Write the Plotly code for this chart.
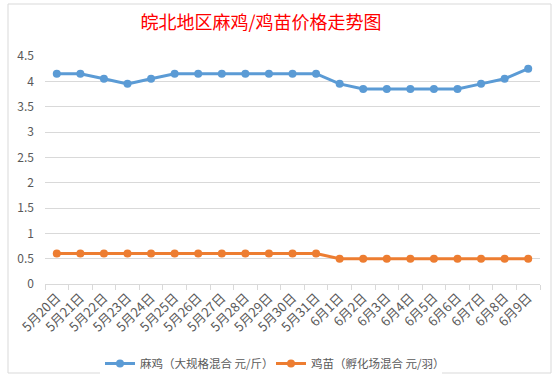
import plotly.graph_objects as go

dates = ["5月20日", "5月21日", "5月22日", "5月23日", "5月24日", "5月25日", "5月26日",
         "5月27日", "5月28日", "5月29日", "5月30日", "5月31日", "6月1日", "6月2日",
         "6月3日", "6月4日", "6月5日", "6月6日", "6月7日", "6月8日", "6月9日"]
maji = [4.15, 4.15, 4.05, 3.95, 4.05, 4.15, 4.15, 4.15, 4.15, 4.15, 4.15, 4.15,
        3.95, 3.85, 3.85, 3.85, 3.85, 3.85, 3.95, 4.05, 4.25]
jimiao = [0.6, 0.6, 0.6, 0.6, 0.6, 0.6, 0.6, 0.6, 0.6, 0.6, 0.6, 0.6,
          0.5, 0.5, 0.5, 0.5, 0.5, 0.5, 0.5, 0.5, 0.5]
name_maji = "麻鸡（大规格混合 元/斤）"
name_jimiao = "鸡苗（孵化场混合 元/羽）"
title = "皖北地区麻鸡/鸡苗价格走势图"

FONT = "Noto Sans CJK SC"

fig = go.Figure()
fig.add_trace(go.Scatter(x=dates, y=maji, name=name_maji, mode="lines+markers",
                         line=dict(color="#5B9BD5", width=3),
                         marker=dict(color="#5B9BD5", size=8)))
fig.add_trace(go.Scatter(x=dates, y=jimiao, name=name_jimiao, mode="lines+markers",
                         line=dict(color="#ED7D31", width=3),
                         marker=dict(color="#ED7D31", size=8)))

fig.update_layout(
    width=557, height=382,
    margin=dict(l=45, r=17, t=56, b=98, autoexpand=False),
    paper_bgcolor="white", plot_bgcolor="white",
    font=dict(family=FONT, size=12, color="#595959"),
    title=dict(text=title, xref="container", x=261 / 557, xanchor="center",
               y=0.94, yanchor="middle",
               font=dict(family=FONT, size=18, color="#FF0000")),
    showlegend=True,
    legend=dict(orientation="h", x=(100 - 45) / 495, xanchor="left", y=-0.285, yanchor="top",
                font=dict(family=FONT, size=11.5, color="#595959"),
                itemwidth=30, entrywidth=126, entrywidthmode="pixels"),
    xaxis=dict(type="category", tickangle=-45, showgrid=False, automargin=False,
               range=[-0.5, len(dates) - 0.5],
               showline=True, linecolor="#D9D9D9", linewidth=1,
               ticks="outside", tickson="boundaries", ticklen=5, tickcolor="#D9D9D9",
               tickfont=dict(size=13, color="#595959"), fixedrange=True),
    yaxis=dict(range=[0, 4.5], dtick=0.5, showgrid=True, automargin=False,
               gridcolor="#D9D9D9", gridwidth=1, zeroline=False, showline=False,
               ticklabelstandoff=10,
               tickfont=dict(size=12, color="#595959"), fixedrange=True),
)

fig.add_shape(type="rect", xref="paper", yref="paper",
              x0=(8 - 45) / 495, x1=(551 - 45) / 495,
              y0=(283 - 372) / 228, y1=(283 - 3) / 228,
              line=dict(color="#D9D9D9", width=1), layer="below")

fig.write_html("out.html", config={"displayModeBar": False},
               post_script="document.body.style.margin='0';")
